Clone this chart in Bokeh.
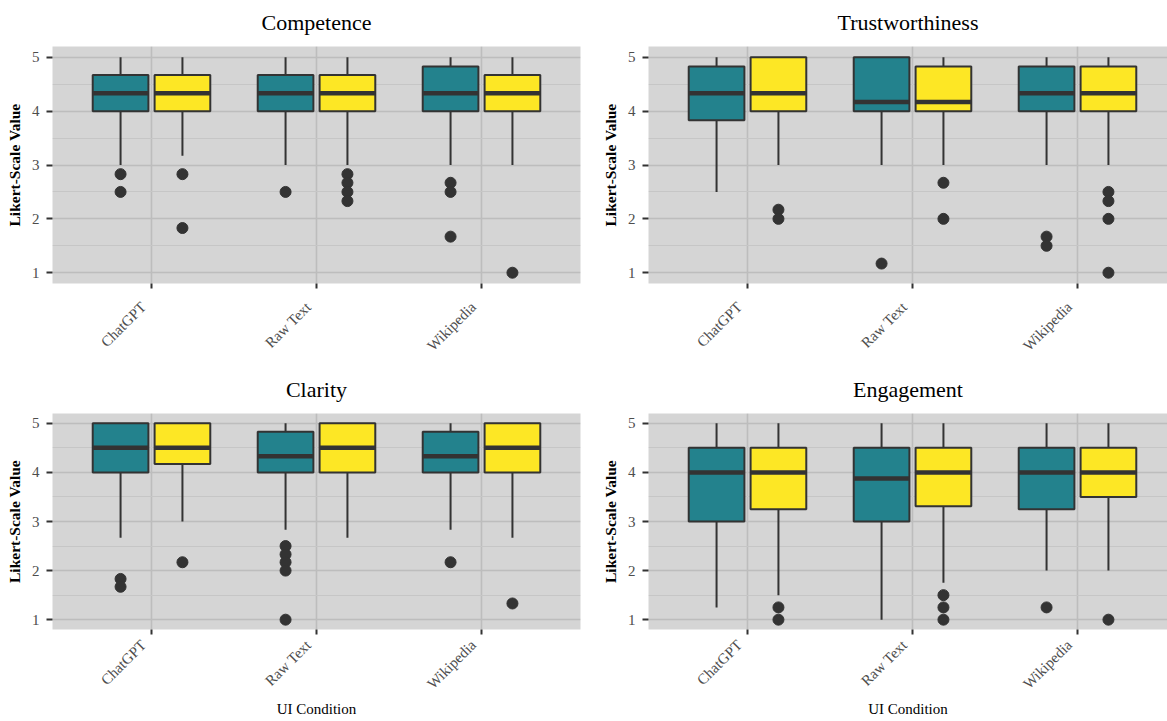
import math
from bokeh.plotting import figure
from bokeh.layouts import column, row
from bokeh.models import FixedTicker, ColumnDataSource, Range1d, LinearAxis
from bokeh.embed import file_html
from bokeh.resources import INLINE

# ---------------- data ----------------
conditions = ["ChatGPT", "Raw Text", "Wikipedia"]
metrics = ["Competence", "Trustworthiness", "Clarity", "Engagement"]
x_title = "UI Condition"
y_title = "Likert-Scale Value"
y_ticks = [1, 2, 3, 4, 5]
y_minor = [1.5, 2.5, 3.5, 4.5]

# per condition: (lower whisker, Q1, median, Q3, upper whisker)
competence_teal = [(3.0, 4.0, 4.33, 4.67, 5.0), (3.0, 4.0, 4.33, 4.67, 5.0), (3.0, 4.0, 4.33, 4.83, 5.0)]
competence_teal_out = [[2.83, 2.5], [2.5], [2.67, 2.5, 1.67]]
competence_yellow = [(3.17, 4.0, 4.33, 4.67, 5.0), (3.0, 4.0, 4.33, 4.67, 5.0), (3.0, 4.0, 4.33, 4.67, 5.0)]
competence_yellow_out = [[2.83, 1.83], [2.83, 2.67, 2.5, 2.33], [1.0]]

trust_teal = [(2.5, 3.83, 4.33, 4.83, 5.0), (3.0, 4.0, 4.17, 5.0, 5.0), (3.0, 4.0, 4.33, 4.83, 5.0)]
trust_teal_out = [[], [1.17], [1.67, 1.5]]
trust_yellow = [(3.0, 4.0, 4.33, 5.0, 5.0), (3.0, 4.0, 4.17, 4.83, 5.0), (3.0, 4.0, 4.33, 4.83, 5.0)]
trust_yellow_out = [[2.17, 2.0], [2.67, 2.0], [2.5, 2.33, 2.0, 1.0]]

clarity_teal = [(2.67, 4.0, 4.5, 5.0, 5.0), (2.83, 4.0, 4.33, 4.83, 5.0), (2.83, 4.0, 4.33, 4.83, 5.0)]
clarity_teal_out = [[1.83, 1.67], [2.5, 2.33, 2.17, 2.0, 1.0], [2.17]]
clarity_yellow = [(3.0, 4.17, 4.5, 5.0, 5.0), (2.67, 4.0, 4.5, 5.0, 5.0), (2.67, 4.0, 4.5, 5.0, 5.0)]
clarity_yellow_out = [[2.17], [], [1.33]]

engage_teal = [(1.25, 3.0, 4.0, 4.5, 5.0), (1.0, 3.0, 3.875, 4.5, 5.0), (2.0, 3.25, 4.0, 4.5, 5.0)]
engage_teal_out = [[], [], [1.25]]
engage_yellow = [(1.5, 3.25, 4.0, 4.5, 5.0), (1.75, 3.31, 4.0, 4.5, 5.0), (2.0, 3.5, 4.0, 4.5, 5.0)]
engage_yellow_out = [[1.25, 1.0], [1.5, 1.25, 1.0], [1.0]]

# ---------------- style ----------------
TEAL = "#23828D"
YELLOW = "#FDE725"
DARK = "#333333"
BG = "#D5D5D5"
FONT = "Liberation Serif"
DODGE = 0.1875
BOX_W = 0.3375
Y_LO, Y_HI = 0.8, 5.2
X_LO = 0.4
PX_PER_CAT = 165.0
LABEL_SHIFT = 8 / PX_PER_CAT  # nudge rotated labels so their end sits at the tick


def add_group(p, stats, outliers, offset, color):
    xs = [i + 1 + offset for i in range(len(stats))]
    src = ColumnDataSource(dict(
        x=xs,
        x0=[x - BOX_W / 2 for x in xs],
        x1=[x + BOX_W / 2 for x in xs],
        lo=[s[0] for s in stats],
        q1=[s[1] for s in stats],
        med=[s[2] for s in stats],
        q3=[s[3] for s in stats],
        hi=[s[4] for s in stats],
    ))
    p.segment(x0="x", y0="q3", x1="x", y1="hi", source=src, line_color=DARK, line_width=2)
    p.segment(x0="x", y0="q1", x1="x", y1="lo", source=src, line_color=DARK, line_width=2)
    p.vbar(x="x", width=BOX_W, bottom="q1", top="q3", source=src,
           fill_color=color, line_color=DARK, line_width=2)
    p.segment(x0="x0", y0="med", x1="x1", y1="med", source=src, line_color=DARK, line_width=4.5)
    ox, oy = [], []
    for x, outs in zip(xs, outliers):
        for v in outs:
            ox.append(x)
            oy.append(v)
    p.scatter(ox, oy, size=11, color=DARK)


def make_panel(title, teal, teal_out, yellow, yellow_out, width, height,
               mbl, mbr, mbt, mbb, x_end, xlabel, label_standoff):
    p = figure(width=width, height=height, x_range=Range1d(X_LO, x_end),
               y_range=Range1d(Y_LO, Y_HI), output_backend="svg", toolbar_location=None,
               min_border_left=mbl, min_border_right=mbr, min_border_top=mbt,
               min_border_bottom=mbb)
    p.background_fill_color = BG
    p.border_fill_color = "white"
    p.outline_line_color = None

    p.title.text = title
    p.title.align = "center"
    p.title.vertical_align = "top"
    p.title.text_font = FONT
    p.title.text_font_size = "22px"
    p.title.text_font_style = "normal"
    p.title.text_color = "black"
    p.title.standoff = 19

    cat_pos = [i + 1 for i in range(len(conditions))]
    # primary x axis: tick marks only
    xa = p.xaxis[0]
    xa.ticker = FixedTicker(ticks=cat_pos)
    xa.major_label_overrides = {c: "" for c in cat_pos}
    xa.major_label_standoff = 0
    xa.major_label_text_font_size = "1px"
    # label axis: category names, rotated
    lab_pos = [c - LABEL_SHIFT for c in cat_pos]
    la = LinearAxis(ticker=FixedTicker(ticks=lab_pos),
                    major_label_overrides={lp: name for lp, name in zip(lab_pos, conditions)},
                    major_label_orientation=math.pi / 4)
    la.major_tick_line_color = None
    la.major_tick_out = 0
    la.major_tick_in = 0
    la.major_label_standoff = label_standoff
    la.major_label_text_font_size = "15px"
    p.add_layout(la, "below")

    p.yaxis.ticker = FixedTicker(ticks=y_ticks, minor_ticks=y_minor)
    p.xgrid.ticker = FixedTicker(ticks=cat_pos)

    for ax in (xa, p.yaxis[0], la):
        ax.axis_line_color = None
        ax.minor_tick_line_color = None
        ax.major_label_text_font = FONT
        ax.major_label_text_color = "#4D4D4D"
    for ax in (xa, p.yaxis[0]):
        ax.major_tick_in = 0
        ax.major_tick_line_color = DARK
        ax.major_tick_line_width = 2
    p.yaxis.major_label_text_font_size = "15px"
    xa.major_tick_out = 5
    p.yaxis.major_tick_out = 6
    p.yaxis.axis_label = y_title
    p.yaxis.axis_label_text_font = FONT
    p.yaxis.axis_label_text_font_size = "15.5px"
    p.yaxis.axis_label_text_font_style = "bold"
    p.yaxis.axis_label_text_color = "black"
    p.yaxis.axis_label_standoff = 6
    p.yaxis.major_label_standoff = 7
    if xlabel:
        la.axis_label = xlabel
        la.axis_label_text_font = FONT
        la.axis_label_text_font_size = "15px"
        la.axis_label_text_font_style = "normal"
        la.axis_label_text_color = "black"
        la.axis_label_standoff = 0

    p.xgrid.grid_line_color = "#BDBDBD"
    p.xgrid.grid_line_width = 1.6
    p.ygrid.grid_line_color = "#BDBDBD"
    p.ygrid.grid_line_width = 1.6
    p.ygrid.minor_grid_line_color = "#C6C6C6"
    p.ygrid.minor_grid_line_width = 1.2

    add_group(p, teal, teal_out, -DODGE, TEAL)
    add_group(p, yellow, yellow_out, DODGE, YELLOW)
    return p


LEFT_W, RIGHT_W = 598, 569
TOP_H, BOT_H = 365, 356
LEFT_END = X_LO + 528 / PX_PER_CAT
RIGHT_END = X_LO + 519 / PX_PER_CAT

p1 = make_panel(metrics[0], competence_teal, competence_teal_out, competence_yellow, competence_yellow_out,
                LEFT_W, TOP_H, 52, 18, 46, 82, LEFT_END, None, 16)
p2 = make_panel(metrics[1], trust_teal, trust_teal_out, trust_yellow, trust_yellow_out,
                RIGHT_W, TOP_H, 50, 0, 46, 82, RIGHT_END, None, 16)
p3 = make_panel(metrics[2], clarity_teal, clarity_teal_out, clarity_yellow, clarity_yellow_out,
                LEFT_W, BOT_H, 52, 18, 48, 92, LEFT_END, x_title, 8)
p4 = make_panel(metrics[3], engage_teal, engage_teal_out, engage_yellow, engage_yellow_out,
                RIGHT_W, BOT_H, 50, 0, 48, 92, RIGHT_END, x_title, 8)

layout = column(row(p1, p2), row(p3, p4))

with open("out.html", "w") as f:
    f.write(file_html(layout, INLINE))
